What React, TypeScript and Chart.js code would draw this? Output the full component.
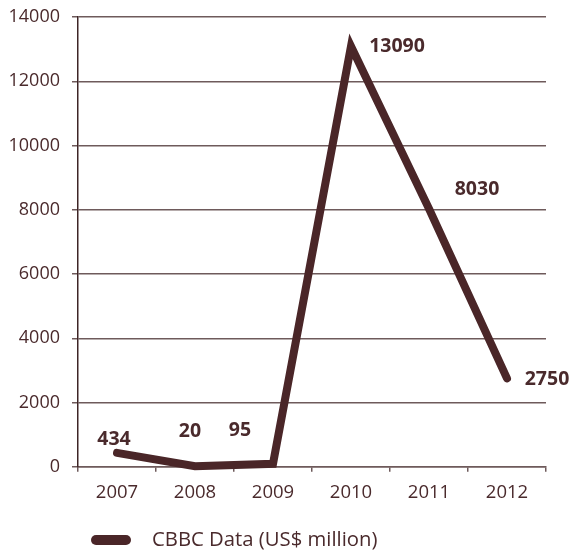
import React, { useEffect, useRef } from "react";
import { Chart, registerables } from "chart.js";

Chart.register(...registerables);

const categories = ["2007", "2008", "2009", "2010", "2011", "2012"];
const cbbcValues = [434, 20, 95, 13090, 8030, 2750];
const valueLabels = ["434", "20", "95", "13090", "8030", "2750"];
const yTicks = [0, 2000, 4000, 6000, 8000, 10000, 12000, 14000];
const seriesName = "CBBC Data (US$ million)";

// label placement offsets (px) relative to each point
const labelDx = [-3, -5, -33, 46, 48, 40];
const labelDy = [-13, -35, -33, 0, -19, 1];

const LINE = "#4a2628";
const TEXT = "#4a2a2c";
const GRID = "#6e5a5b";
const FONT = "'Open Sans', 'Noto Sans', sans-serif";

const labelsPlugin = {
  id: "valueLabelsAndLegend",
  afterDatasetsDraw(chart: any) {
    const ctx = chart.ctx;
    const meta = chart.getDatasetMeta(0);
    ctx.save();
    ctx.fillStyle = TEXT;
    ctx.font = `bold 19.5px ${FONT}`;
    ctx.textAlign = "center";
    ctx.textBaseline = "middle";
    meta.data.forEach((pt: any, i: number) => {
      ctx.fillText(valueLabels[i], pt.x + labelDx[i], pt.y + labelDy[i]);
    });
    // legend
    const ds = chart.data.datasets[0];
    const ly = 540;
    ctx.strokeStyle = ds.borderColor;
    ctx.lineWidth = 10;
    ctx.lineCap = "round";
    ctx.beginPath();
    ctx.moveTo(96, ly);
    ctx.lineTo(126, ly);
    ctx.stroke();
    ctx.font = `20.3px ${FONT}`;
    ctx.textAlign = "left";
    ctx.fillText(ds.label, 152, ly);
    ctx.restore();
  },
};

export default function App() {
  const ref = useRef<HTMLCanvasElement | null>(null);
  useEffect(() => {
    if (!ref.current) return;
    const chart = new Chart(ref.current, {
      type: "line",
      data: {
        labels: categories,
        datasets: [
          {
            label: seriesName,
            data: cbbcValues,
            borderColor: LINE,
            backgroundColor: LINE,
            borderWidth: 8,
            borderJoinStyle: "miter",
            borderCapStyle: "round",
            pointRadius: 0,
            tension: 0,
            clip: false as any,
          },
        ],
      },
      options: {
        animation: false,
        responsive: false,
        layout: { padding: { top: 17, right: 29, bottom: 40, left: 0 } },
        plugins: {
          legend: { display: false },
          tooltip: { enabled: false },
        },
        scales: {
          x: {
            offset: true,
            grid: {
              offset: true,
              drawOnChartArea: false,
              drawTicks: true,
              tickLength: 5,
              color: GRID,
              lineWidth: 1.5,
            },
            border: { display: true, color: GRID, width: 1.5 },
            ticks: {
              color: TEXT,
              font: { family: FONT, size: 18.5 },
              padding: 10,
              maxRotation: 0,
            },
          },
          y: {
            min: 0,
            max: 14000,
            afterBuildTicks: (scale: any) => {
              scale.ticks = yTicks.map((v) => ({ value: v }));
            },
            afterFit: (scale: any) => {
              scale.width = 78;
              scale.paddingTop = 0;
              scale.paddingBottom = 0;
            },
            grid: {
              color: GRID,
              lineWidth: 1.5,
              tickLength: 6,
            },
            border: { display: true, color: "#3e2526", width: 1.5 },
            ticks: {
              color: TEXT,
              font: { family: FONT, size: 18 },
              padding: 12,
              callback: (v: any) => String(v),
            },
          },
        },
      },
      plugins: [labelsPlugin],
    });
    return () => chart.destroy();
  }, []);
  return (
    <div style={{ position: "absolute", left: 0, top: 0, width: 575, height: 554, background: "#fff" }}>
      <canvas ref={ref} width={575} height={554} />
    </div>
  );
}
